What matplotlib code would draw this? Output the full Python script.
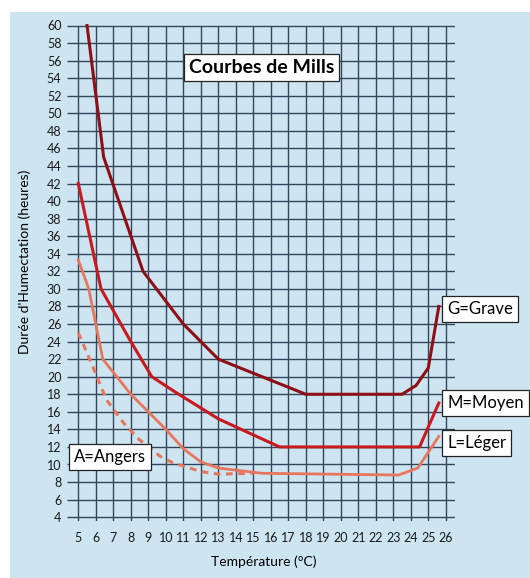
import matplotlib
matplotlib.use("Agg")
import matplotlib.pyplot as plt
from matplotlib.patches import Rectangle

# Courbes de Mills : durée d'humectation (h) selon la température (°C)
grave_t = [5.5, 6.45, 8.7, 11.0, 13.0, 18.0, 23.5, 24.3, 25.0, 25.6]
grave_h = [60, 45, 32, 26, 22, 18, 18, 19, 21, 28]

moyen_t = [5.0, 6.3, 8.0, 9.2, 10.5, 13.0, 16.5, 24.5, 25.6]
moyen_h = [42, 30, 24, 20, 18.3, 15.2, 12, 12, 17]

leger_t = [5.0, 5.6, 6.4, 8.0, 9.0, 10.0, 11.0, 12.0, 13.0, 15.5, 23.3, 24.4, 25.6]
leger_h = [33.3, 30, 22, 18, 16, 14, 11.8, 10.3, 9.6, 9.0, 8.8, 9.6, 13.2]

angers_t = [5.0, 5.9, 6.6, 7.6, 8.5, 9.7, 10.4, 12.0, 13.0, 15.0]
angers_h = [25, 20.8, 17.4, 14.7, 12.8, 10.9, 10.2, 9.2, 8.9, 9.0]

x_ticks = list(range(5, 27))
y_ticks = list(range(4, 61, 2))

BG = "#cde5f1"
GRID = "#34445a"
C_GRAVE = "#8e1016"
C_MOYEN = "#c8191f"
C_LEGER = "#e8765c"

W, H = 530, 578
fig = plt.figure(figsize=(W / 100, H / 100), dpi=100, facecolor=BG)
plt.rcParams["font.family"] = ["Lato", "DejaVu Sans"]

# bande blanche du scan (haut et gauche)
fig.patches.append(Rectangle((0, 1 - 12 / H), 1, 12 / H, transform=fig.transFigure,
                             facecolor="white", edgecolor="none", zorder=0))
fig.patches.append(Rectangle((0, 0), 10 / W, 1, transform=fig.transFigure,
                             facecolor="white", edgecolor="none", zorder=0))

# axes placés au pixel près
left_px, right_px, top_px, bot_px = 67, 455, 24, 521
ax = fig.add_axes([left_px / W, 1 - bot_px / H, (right_px - left_px) / W, (bot_px - top_px) / H])
ax.set_facecolor(BG)

px_per_x = 17.5
px_per_y = 8.78
ax.set_xlim(5 - (78.3 - left_px) / px_per_x, 5 + (right_px - 78.3) / px_per_x)
ax.set_ylim(60 - (bot_px - 25.5) / px_per_y, 60 + (25.5 - top_px) / px_per_y)

ax.set_xticks(x_ticks)
ax.set_yticks(y_ticks)
ax.tick_params(length=0, labelsize=9, colors="#1a1a1a")
ax.tick_params(axis="x", pad=8)
ax.tick_params(axis="y", pad=4)
for s in ax.spines.values():
    s.set_visible(False)

ax.hlines(y_ticks, *ax.get_xlim(), color=GRID, linewidth=1.0, zorder=1)
ax.vlines(x_ticks, ax.get_ylim()[0], 60, color=GRID, linewidth=1.0, zorder=1)

ax.plot(angers_t, angers_h, color=C_LEGER, linewidth=2.2, linestyle=(0, (2.2, 1.8)), zorder=3)
ax.plot(leger_t, leger_h, color=C_LEGER, linewidth=2.0, zorder=3)
ax.plot(moyen_t, moyen_h, color=C_MOYEN, linewidth=2.2, zorder=4)
ax.plot(grave_t, grave_h, color=C_GRAVE, linewidth=2.2, zorder=4)

box = dict(boxstyle="square,pad=0.3", facecolor="white", edgecolor="#222222", linewidth=0.9)
title_box = dict(boxstyle="square,pad=0.25", facecolor="white", edgecolor="#222222", linewidth=0.9)
ax.text(15.48, 55.2, "Courbes de Mills", ha="center", va="center", fontsize=14,
        fontweight="bold", bbox=title_box, zorder=5)
for x, y, txt in [(26.07, 27.7, "G=Grave"), (26.07, 17.0, "M=Moyen"),
                  (26.07, 12.5, "L=Léger"), (4.75, 10.85, "A=Angers")]:
    ax.text(x, y, txt, ha="left", va="center", fontsize=12, bbox=box,
            clip_on=False, zorder=5)

fig.text(264 / W, 1 - 562 / H, "Température (°C)", ha="center", va="center", fontsize=10)
fig.text(25 / W, 1 - 262 / H, "Durée d'Humectation (heures)", ha="center", va="center",
         rotation=90, fontsize=10)

fig.savefig("out.png", dpi=100, facecolor=fig.get_facecolor())
